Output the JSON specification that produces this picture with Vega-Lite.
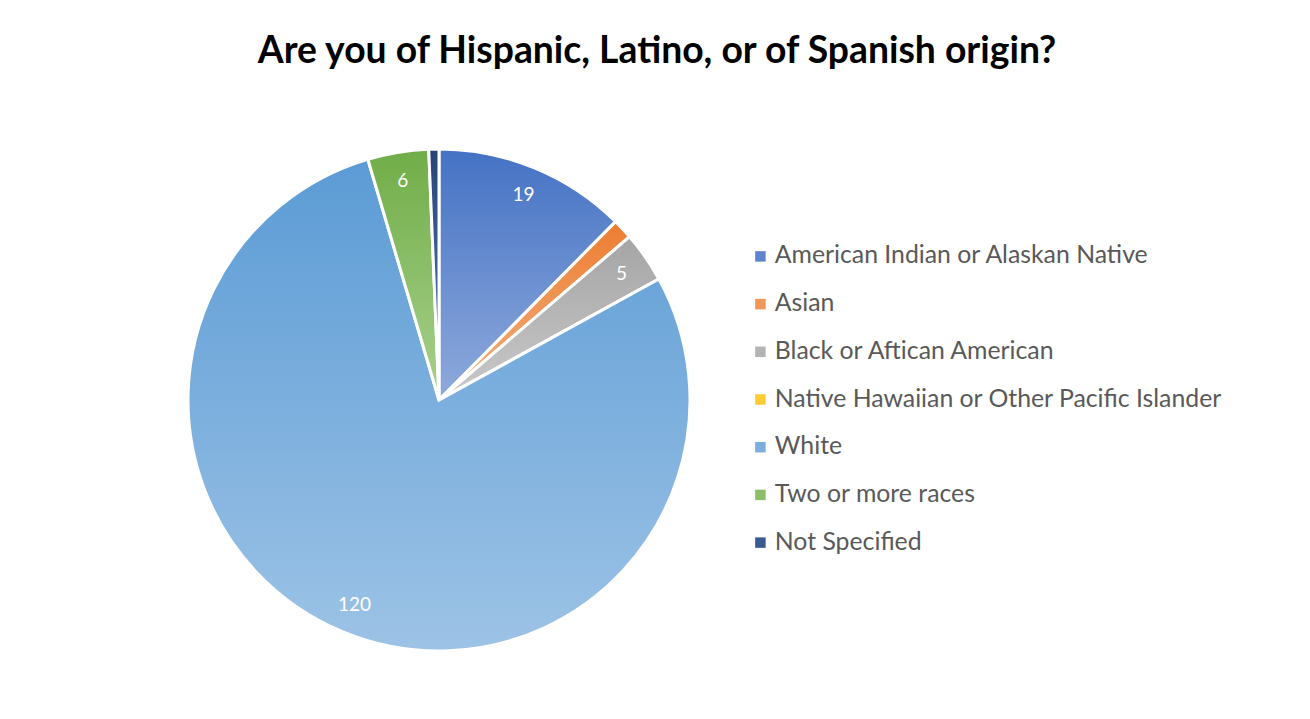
{
  "$schema": "https://vega.github.io/schema/vega-lite/v6.json",
  "autosize": "none",
  "width": 502,
  "height": 502,
  "padding": {"left": 188, "top": 149, "right": 620, "bottom": 68},
  "background": "white",
  "config": {"view": {"stroke": null}},
  "title": {
    "text": "Are you of Hispanic, Latino, or of Spanish origin?",
    "font": "Lato",
    "fontSize": 37.3,
    "fontWeight": "bold",
    "color": "#000000",
    "anchor": "middle",
    "dx": 218,
    "offset": 72
  },
  "data": {
    "values": [
      {"idx": 1, "race": "American Indian or Alaskan Native", "count": 19},
      {"idx": 2, "race": "Asian", "count": 2},
      {"idx": 3, "race": "Black or Aftican American", "count": 5},
      {"idx": 4, "race": "Native Hawaiian or Other Pacific Islander", "count": 0},
      {"idx": 5, "race": "White", "count": 120},
      {"idx": 6, "race": "Two or more races", "count": 6},
      {"idx": 7, "race": "Not Specified", "count": 1}
    ]
  },
  "encoding": {
    "theta": {"field": "count", "type": "quantitative", "stack": true},
    "order": {"field": "idx", "type": "quantitative"}
  },
  "layer": [
    {
      "mark": {"type": "arc", "stroke": "white", "strokeWidth": 3},
      "encoding": {
        "color": {
          "field": "race",
          "type": "nominal",
          "sort": null,
          "scale": {
            "domain": [
              "American Indian or Alaskan Native",
              "Asian",
              "Black or Aftican American",
              "Native Hawaiian or Other Pacific Islander",
              "White",
              "Two or more races",
              "Not Specified"
            ],
            "range": ["#5F84CF", "#F09759", "#B3B3B3", "#FFCB33", "#7BAFDD", "#8BBF68", "#3A5A94"]
          },
          "legend": {
            "title": null,
            "orient": "none",
            "legendX": 560,
            "legendY": 95,
            "symbolType": "square",
            "symbolSize": 110,
            "symbolStrokeWidth": 0,
            "labelFont": "Lato",
            "labelFontSize": 24.8,
            "labelColor": "#595959",
            "labelOffset": 2,
            "labelLimit": 600,
            "rowPadding": 21.7,
            "padding": 0
          }
        }
      }
    },
    {
      "mark": {"type": "arc", "stroke": "white", "strokeWidth": 3},
      "encoding": {
        "fill": {
          "condition": [
            {"test": "datum.idx == 1", "value": {"gradient": "linear", "x1": 0, "y1": 0, "x2": 0, "y2": 1, "stops": [{"offset": 0, "color": "#4472C4"}, {"offset": 1, "color": "#8FAADC"}]}},
            {"test": "datum.idx == 2", "value": {"gradient": "linear", "x1": 0, "y1": 0, "x2": 0, "y2": 1, "stops": [{"offset": 0, "color": "#ED7D31"}, {"offset": 1, "color": "#F4B183"}]}},
            {"test": "datum.idx == 3", "value": {"gradient": "linear", "x1": 0, "y1": 0, "x2": 0, "y2": 1, "stops": [{"offset": 0, "color": "#A5A5A5"}, {"offset": 1, "color": "#C9C9C9"}]}},
            {"test": "datum.idx == 4", "value": {"gradient": "linear", "x1": 0, "y1": 0, "x2": 0, "y2": 1, "stops": [{"offset": 0, "color": "#FFC000"}, {"offset": 1, "color": "#FFD966"}]}},
            {"test": "datum.idx == 5", "value": {"gradient": "linear", "x1": 0, "y1": 0, "x2": 0, "y2": 1, "stops": [{"offset": 0, "color": "#5B9BD5"}, {"offset": 1, "color": "#9DC3E6"}]}},
            {"test": "datum.idx == 6", "value": {"gradient": "linear", "x1": 0, "y1": 0, "x2": 0, "y2": 1, "stops": [{"offset": 0, "color": "#70AD47"}, {"offset": 1, "color": "#A9D18E"}]}}
          ],
          "value": {"gradient": "linear", "x1": 0, "y1": 0, "x2": 0, "y2": 1, "stops": [{"offset": 0, "color": "#264478"}, {"offset": 1, "color": "#5B7DBF"}]}
        }
      }
    },
    {
      "mark": {"type": "text", "radius": 222, "font": "Lato", "fontSize": 19, "color": "white"},
      "encoding": {
        "text": {
          "condition": {"test": "datum.count >= 5", "field": "count", "type": "quantitative"},
          "value": ""
        }
      }
    }
  ]
}
